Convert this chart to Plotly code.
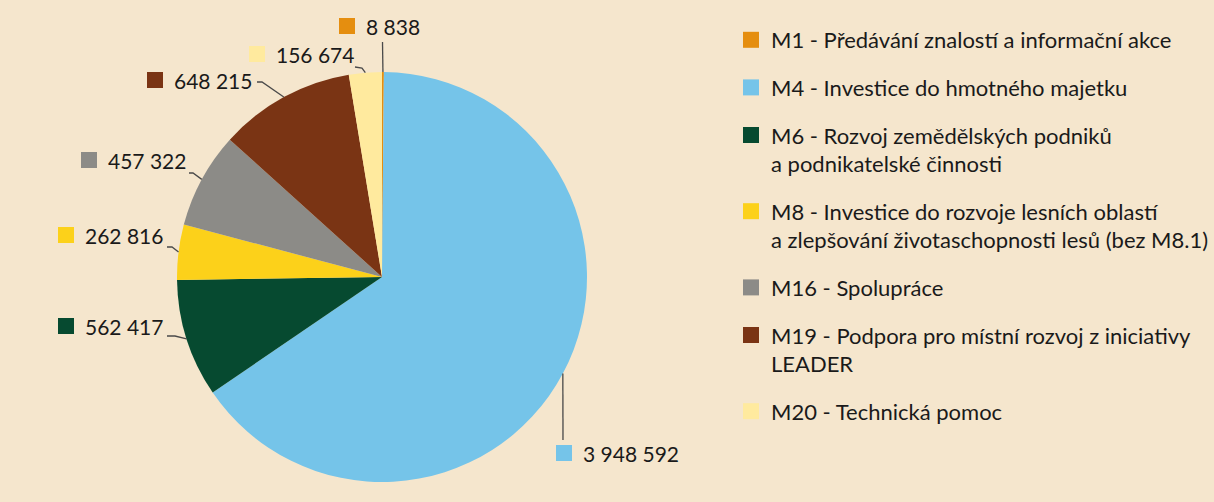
import numpy as np
import plotly.graph_objects as go

W, H = 1214, 502

# data
categories = [
    "M1 - Předávání znalostí a informační akce",
    "M4 - Investice do hmotného majetku",
    "M6 - Rozvoj zemědělských podniků<br>a podnikatelské činnosti",
    "M8 - Investice do rozvoje lesních oblastí<br>a zlepšování životaschopnosti lesů (bez M8.1)",
    "M16 - Spolupráce",
    "M19 - Podpora pro místní rozvoj z iniciativy<br>LEADER",
    "M20 - Technická pomoc",
]
values = [8838, 3948592, 562417, 262816, 457322, 648215, 156674]
value_labels = ["8 838", "3 948 592", "562 417", "262 816", "457 322", "648 215", "156 674"]
colors = ["#E58E0F", "#75C4E9", "#064A30", "#FCD11A", "#8C8B87", "#7A3414", "#FFEA9E"]

# layout (pixels)
cx, cy, r = 382, 277, 205
label_left = [339, 556, 58, 58, 81, 147, 249]
label_mid = [26, 453, 326, 235, 160, 80, 54]
leader_elbow = [(382.5, 42), (563, 440), (175, 336), (172, 247), (193, 173), (262, 82), (362, 68)]
leader_end = [(382.5, 42), (563, 440), (167, 336), (167, 247), (189, 173), (257, 82), (355, 67)]

FONT = "Lato, 'Open Sans', sans-serif"
TEXT = "#1A1A1A"


def px(x):
    return x / W


def py(y):
    return 1 - y / H


fig = go.Figure()
fig.add_trace(go.Pie(
    values=values,
    labels=categories,
    marker=dict(colors=colors, line=dict(width=0)),
    sort=False,
    direction="clockwise",
    rotation=0,
    textinfo="none",
    hoverinfo="label+value",
    showlegend=False,
    domain=dict(x=[px(cx - r), px(cx + r)], y=[py(cy + r), py(cy - r)]),
))

# legend entries
for name, c in zip(categories, colors):
    fig.add_trace(go.Scatter(
        x=[None], y=[None], mode="markers", name=name, legendgroup=name,
        marker=dict(symbol="square", size=16, color=c),
    ))

# colour keys next to the value labels (axes are in page pixels)
fig.add_trace(go.Scatter(
    x=[x + 8 for x in label_left], y=label_mid, mode="markers",
    marker=dict(symbol="square", size=16, color=colors, line=dict(width=0)),
    hoverinfo="skip", showlegend=False,
))

# value labels with leader lines, anchored at slice mid angles
total = sum(values)
ends = np.cumsum(values) / total * 360
mids = ends - np.array(values) / total * 180
shapes = []
annotations = []
for i, v in enumerate(values):
    a = np.radians(mids[i])
    ax_, ay_ = cx + r * np.sin(a), cy - r * np.cos(a)
    (ex, ey), (tx, ty) = leader_elbow[i], leader_end[i]
    shapes.append(dict(type="path", path=f"M {ax_},{ay_} L {ex},{ey} L {tx},{ty}",
                       xref="x", yref="y", line=dict(color="#4A4A4A", width=1.3)))
    annotations.append(dict(
        x=label_left[i] + 25, y=label_mid[i], xref="x", yref="y",
        xanchor="left", yanchor="middle", showarrow=False,
        text=value_labels[i],
        font=dict(family=FONT, size=21, color=TEXT),
    ))

fig.update_layout(
    width=W, height=H,
    margin=dict(l=0, r=0, t=0, b=0),
    paper_bgcolor="#F5E6CD",
    plot_bgcolor="rgba(0,0,0,0)",
    xaxis=dict(visible=False, range=[0, W], domain=[0, 1], fixedrange=True),
    yaxis=dict(visible=False, range=[H, 0], domain=[0, 1], fixedrange=True),
    shapes=shapes,
    annotations=annotations,
    legend=dict(
        x=px(731), y=py(19), xanchor="left", yanchor="top",
        font=dict(family=FONT, size=22, color=TEXT),
        tracegroupgap=16, valign="top",
        bgcolor="rgba(0,0,0,0)",
    ),
)

fig.write_html("out.html", config={"displayModeBar": False},
               post_script="document.body.style.margin='0';")
